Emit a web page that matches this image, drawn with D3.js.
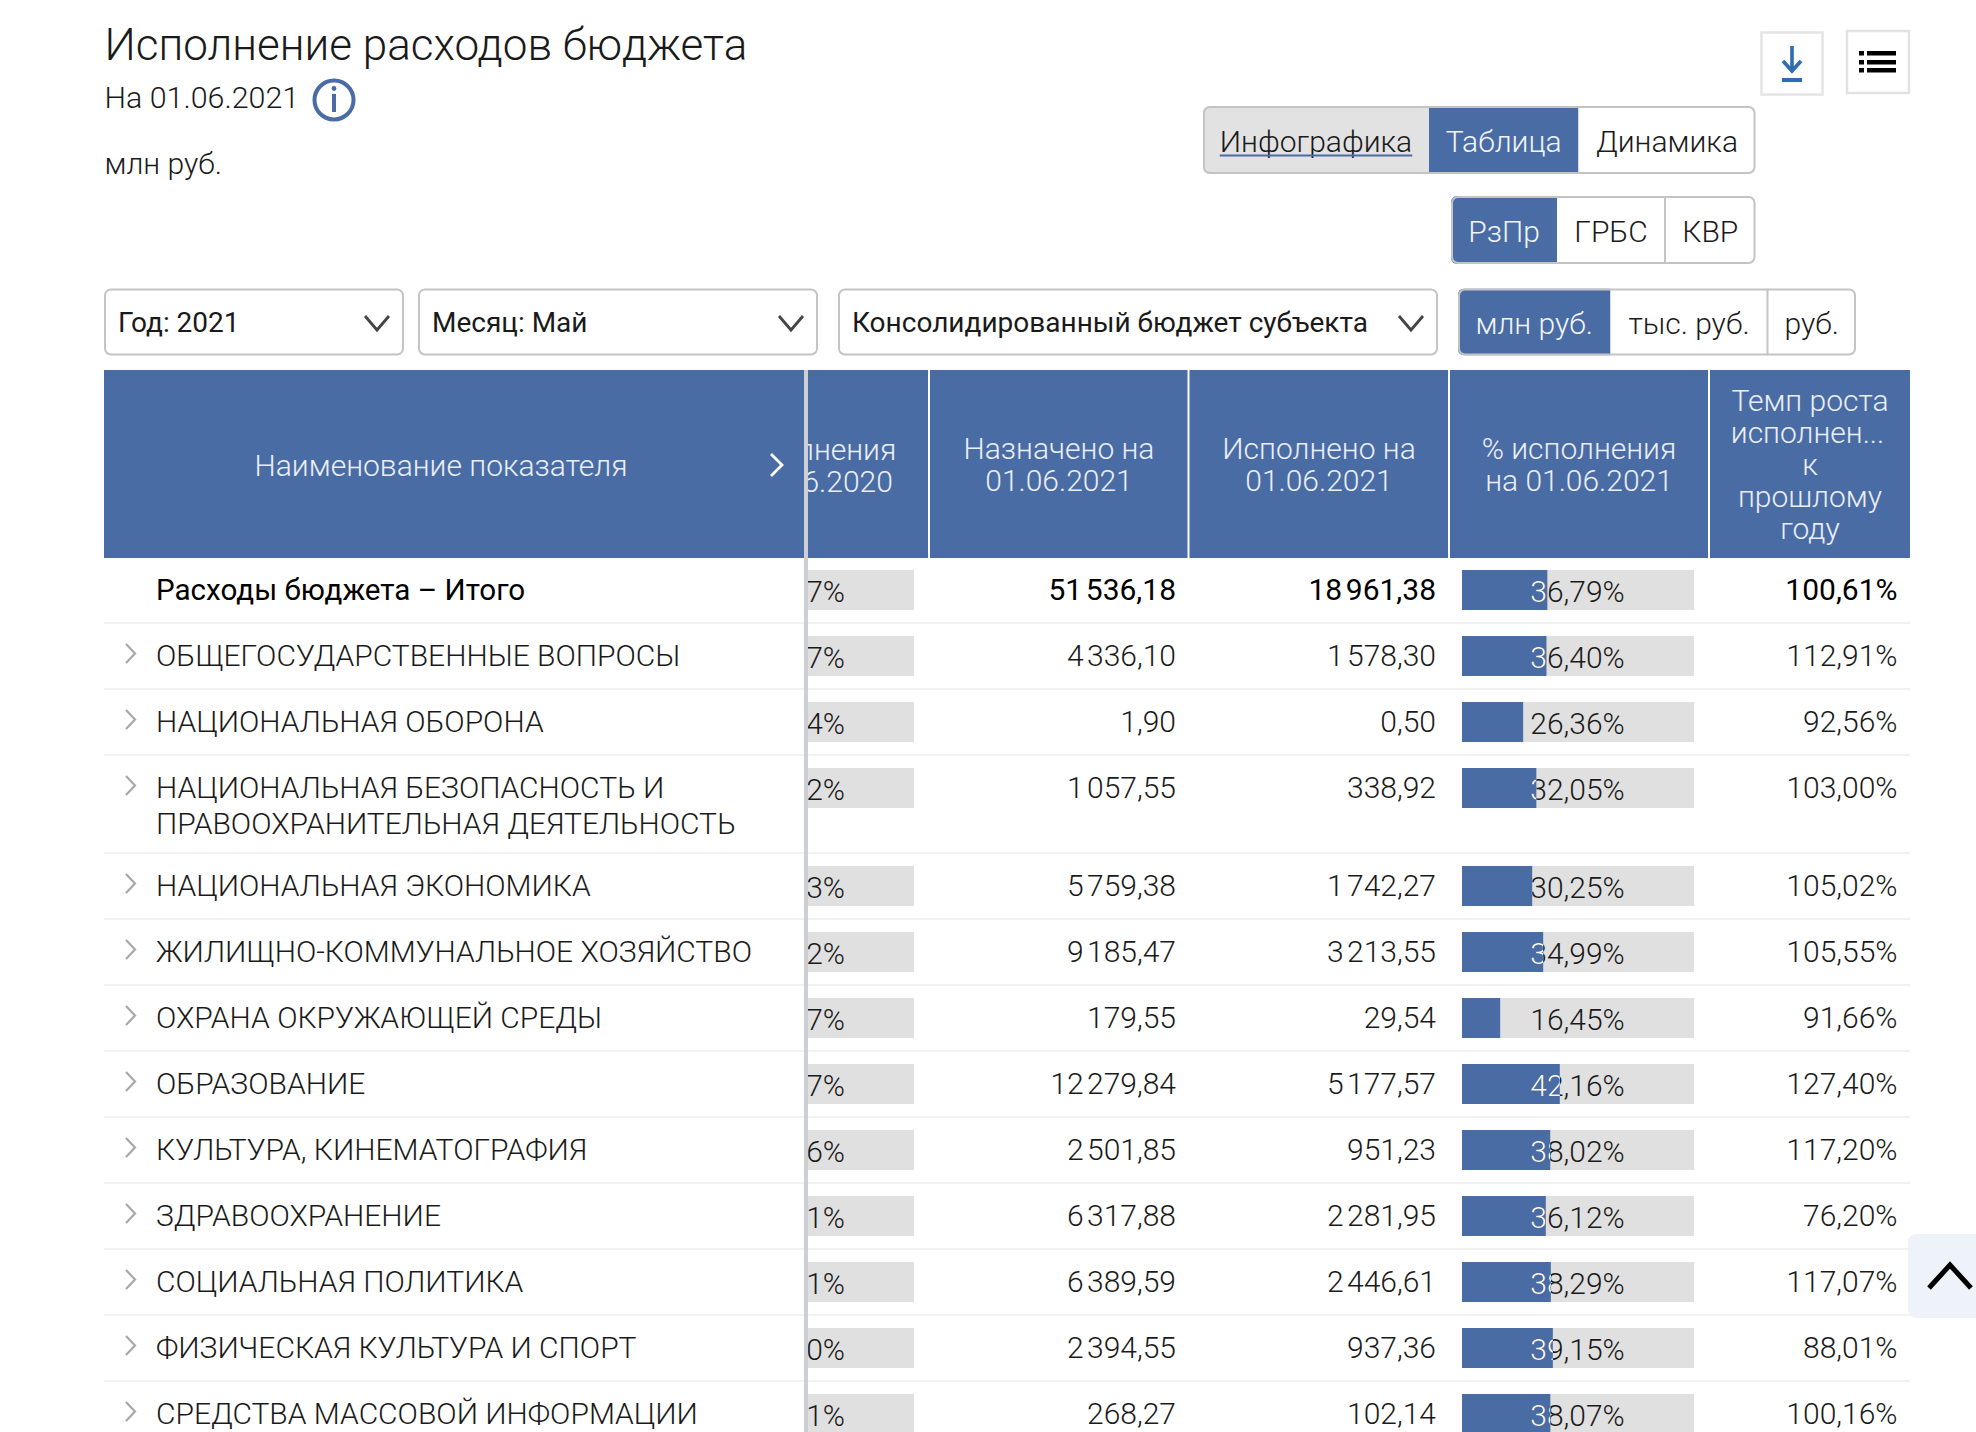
<!DOCTYPE html>
<html lang="ru"><head><meta charset="utf-8">
<script src="https://cdn.jsdelivr.net/npm/d3@7"></script>
<style>
html,body{margin:0;padding:0;background:#fff;overflow:hidden}
svg{display:block}
text{font-family:Roboto,sans-serif;font-weight:300;fill:#1a1a1a}
</style></head><body><div id="chart"></div>
<script>
const categories = ["Расходы бюджета – Итого","ОБЩЕГОСУДАРСТВЕННЫЕ ВОПРОСЫ","НАЦИОНАЛЬНАЯ ОБОРОНА",["НАЦИОНАЛЬНАЯ БЕЗОПАСНОСТЬ И","ПРАВООХРАНИТЕЛЬНАЯ ДЕЯТЕЛЬНОСТЬ"],"НАЦИОНАЛЬНАЯ ЭКОНОМИКА","ЖИЛИЩНО-КОММУНАЛЬНОЕ ХОЗЯЙСТВО","ОХРАНА ОКРУЖАЮЩЕЙ СРЕДЫ","ОБРАЗОВАНИЕ","КУЛЬТУРА, КИНЕМАТОГРАФИЯ","ЗДРАВООХРАНЕНИЕ","СОЦИАЛЬНАЯ ПОЛИТИКА","ФИЗИЧЕСКАЯ КУЛЬТУРА И СПОРТ","СРЕДСТВА МАССОВОЙ ИНФОРМАЦИИ"];
const prevPctVisible = ["7%","7%","4%","2%","3%","2%","7%","7%","6%","1%","1%","0%","1%"];
const assigned = [51536.18,4336.10,1.90,1057.55,5759.38,9185.47,179.55,12279.84,2501.85,6317.88,6389.59,2394.55,268.27];
const executed = [18961.38,1578.30,0.50,338.92,1742.27,3213.55,29.54,5177.57,951.23,2281.95,2446.61,937.36,102.14];
const execPct = [36.79,36.40,26.36,32.05,30.25,34.99,16.45,42.16,38.02,36.12,38.29,39.15,38.07];
const growth = [100.61,112.91,92.56,103.00,105.02,105.55,91.66,127.40,117.20,76.20,117.07,88.01,100.16];
const headers = [["Назначено на","01.06.2021"],["Исполнено на","01.06.2021"],["% исполнения","на 01.06.2021"],["Темп роста","исполнен...","к","прошлому","году"]];
const clippedHeader = ["% исполнения","на 01.06.2020"];
const viewTabs = ["Инфографика","Таблица","Динамика"];
const groupTabs = ["РзПр","ГРБС","КВР"];
const unitTabs = ["млн руб.","тыс. руб.","руб."];
const selects = ["Год: 2021","Месяц: Май","Консолидированный бюджет субъекта"];

const W=1976,H=1432,BLUE="#4a6ca5",TRACK="#e0e0e0",BORDER="#c4c4c4",SEP="#f1f1f1";
const svg=d3.select("#chart").append("svg").attr("width",W).attr("height",H).attr("viewBox",[0,0,W,H]);
const defs=svg.append("defs");
const fmt=v=>{const [a,b]=v.toFixed(2).split(".");return a.replace(/\B(?=(\d{3})+$)/g," ")+","+b;};
const pct=v=>v.toFixed(2).replace(".",",")+"%";
const T=(g,x,y,s,size,o={})=>g.append("text").attr("x",x).attr("y",y).attr("font-size",size).attr("text-anchor",o.a||"start").style("font-weight",o.w||300).style("fill",o.c||"#1a1a1a").text(s);
const NUM=(g,x,y,s,o)=>T(g,x,y,s,30,{a:"end",...o}).style("word-spacing","-3.8px");

// heading
T(svg,104.5,60,"Исполнение расходов бюджета",44);
T(svg,104.5,108,"На 01.06.2021",30.4);
T(svg,104.5,174,"млн руб.",30);
const info=svg.append("g").attr("transform","translate(334,100)");
info.append("circle").attr("r",19.5).attr("fill","#fff").attr("stroke",BLUE).attr("stroke-width",4);
info.append("rect").attr("x",-2).attr("y",-6).attr("width",4).attr("height",18).attr("fill",BLUE);
info.append("circle").attr("cy",-11.5).attr("r",2.4).attr("fill",BLUE);

// tool buttons
svg.append("rect").attr("x",1761.5).attr("y",32.5).attr("width",61).attr("height",62).attr("fill","#fff").attr("stroke","#e4e4e4").attr("stroke-width",2.5);
svg.append("rect").attr("x",1847).attr("y",31).attr("width",62).attr("height",62).attr("fill","#fff").attr("stroke","#e2e2e2").attr("stroke-width",2.5);
const dl=svg.append("g").attr("stroke","#2f6cb0").attr("stroke-width",3.6).attr("fill","none");
dl.append("path").attr("d","M1792 46V70M1783 61L1792 71L1801 61");
dl.append("path").attr("d","M1782 80H1802").attr("stroke-width",4);
[53,62,70].forEach(y=>{svg.append("rect").attr("x",1859).attr("y",y-2).attr("width",5).attr("height",4.5).attr("fill","#000");
 svg.append("rect").attr("x",1867).attr("y",y-2).attr("width",29).attr("height",4.5).attr("fill","#000");});

// segmented controls
function seg(x0,x1,y0,y1,splits,labels,active,size,opts={}){
  const g=svg.append("g");
  const id="seg"+x0;
  defs.append("clipPath").attr("id",id).append("rect").attr("x",x0).attr("y",y0).attr("width",x1-x0).attr("height",y1-y0).attr("rx",6);
  const xs=[x0,...splits,x1];
  const body=g.append("g").attr("clip-path",`url(#${id})`);
  labels.forEach((l,i)=>{
    const fill=i===active?BLUE:(opts.grey===i?"#e2e2e2":"#fff");
    body.append("rect").attr("x",xs[i]).attr("y",y0).attr("width",xs[i+1]-xs[i]).attr("height",y1-y0).attr("fill",fill);
    if(i>0&&i!==active&&i-1!==active) body.append("rect").attr("x",xs[i]-1).attr("y",y0).attr("width",2).attr("height",y1-y0).attr("fill",BORDER);
    const t=T(g,(xs[i]+xs[i+1])/2,(y0+y1)/2+11.5,l,size,{a:"middle",c:i===active?"#f2f5fa":"#1a1a1a"});
    if(opts.grey===i){
      const len=t.node().getComputedTextLength();
      g.append("rect").attr("x",(xs[i]+xs[i+1])/2-len/2).attr("y",(y0+y1)/2+14.5).attr("width",len).attr("height",2).attr("fill",BLUE);
    }
  });
  g.append("rect").attr("x",x0+1).attr("y",y0+1).attr("width",x1-x0-2).attr("height",y1-y0-2).attr("rx",6).attr("fill","none").attr("stroke",BORDER).attr("stroke-width",2);
}
seg(1203,1755.5,106,174,[1429,1578.5],viewTabs,1,30,{grey:0});
seg(1451,1755.5,196,264,[1557,1665],groupTabs,0,30);
seg(1458,1856,288.5,355.5,[1610.5,1767.5],unitTabs,0,30);

// dropdowns
[[104,404],[418,818],[838,1438]].forEach(([a,b],i)=>{
  svg.append("rect").attr("x",a+1).attr("y",289.5).attr("width",b-a-2).attr("height",65).attr("rx",6).attr("fill","#fff").attr("stroke",BORDER).attr("stroke-width",2);
  T(svg,a+14,332,selects[i],28,{w:400});
  svg.append("path").attr("d",`M${b-39} 316L${b-27} 330L${b-15} 316`).attr("fill","none").attr("stroke","#444").attr("stroke-width",2.8);
});

// header band
const hTop=370,hBot=558;
svg.append("rect").attr("x",104).attr("y",hTop).attr("width",1806).attr("height",hBot-hTop).attr("fill",BLUE);
[929,1188.5,1449,1709].forEach(x=>svg.append("rect").attr("x",x-1).attr("y",hTop).attr("width",2).attr("height",hBot-hTop).attr("fill","#fff"));
const hc="#eaeff7";
T(svg,441,476,"Наименование показателя",30,{a:"middle",c:hc});
svg.append("path").attr("d","M771 454L782 465L771 476").attr("fill","none").attr("stroke","#fff").attr("stroke-width",2.8);
const colCenter=[1059,1319,1579,1810];
headers.forEach((ls,i)=>{
  const lh=32, y0=464-(ls.length-1)*lh/2+10.5;
  ls.forEach((l,j)=>T(svg,colCenter[i]-(l.endsWith("...")?2.5:0),y0+j*lh,l,30,{a:"middle",c:hc}));
});

// table body geometry
const rowLines=categories.map(c=>Array.isArray(c)?2:1);
const rowH=rowLines.map(n=>n===2?98:66);
const rowTop=[0,...d3.cumsum(rowH)].map(v=>v+557);
const barX=d3.scaleLinear().domain([0,100]).range([0,232]);
const TX=1462;

// frozen-pane clipped column
defs.append("clipPath").attr("id","pane").append("rect").attr("x",808).attr("y",hTop).attr("width",1102).attr("height",H-hTop);
const pane=svg.append("g").attr("clip-path","url(#pane)");
clippedHeader.forEach((l,j)=>T(pane,799,459.5+j*32,l,30,{a:"middle",c:hc}));

categories.forEach((c,i)=>{
  const top=rowTop[i], bold=i===0, g=svg.append("g");
  const w=bold?400:300, bar=top+13, base=top+42.5, pb=top+45, nc=bold?"#000":"#1a1a1a";
  if(i<categories.length-1&&top+rowH[i]<H) g.append("rect").attr("x",104).attr("y",top+rowH[i]-1).attr("width",1806).attr("height",2).attr("fill",SEP);
  // name
  (Array.isArray(c)?c:[c]).forEach((l,j)=>T(g,156,base+j*36,l,bold?29.6:30,{w,c:nc}));
  if(!bold) g.append("path").attr("d",`M126 ${top+21}L135 ${top+30.5}L126 ${top+40}`).attr("fill","none").attr("stroke","#a8a8a8").attr("stroke-width",2.2);
  // previous-year bar, visible remainder only
  g.append("rect").attr("x",808).attr("y",bar).attr("width",106).attr("height",40).attr("fill",TRACK);
  T(g,845,pb,prevPctVisible[i],30,{a:"end"});
  // numbers
  NUM(g,1176,base,fmt(assigned[i]),{w,c:nc});
  NUM(g,1436,base,fmt(executed[i]),{w,c:nc});
  // execution bar
  g.append("rect").attr("x",TX).attr("y",bar).attr("width",barX(100)).attr("height",40).attr("fill",TRACK);
  g.append("rect").attr("x",TX).attr("y",bar).attr("width",barX(execPct[i])).attr("height",40).attr("fill",BLUE);
  T(g,TX+barX(50)-.5,pb,pct(execPct[i]),30,{a:"middle"});
  const cid="b"+i;
  defs.append("clipPath").attr("id",cid).append("rect").attr("x",TX).attr("y",bar).attr("width",barX(execPct[i])).attr("height",40);
  T(g,TX+barX(50)-.5,pb,pct(execPct[i]),30,{a:"middle",c:"#fff"}).attr("clip-path",`url(#${cid})`);
  NUM(g,1897.5,base,pct(growth[i]),{w,c:nc});
});

// frozen divider
svg.append("rect").attr("x",804).attr("y",hTop).attr("width",4).attr("height",H-hTop).attr("fill","#ccd0d4");

// back-to-top
svg.append("path").attr("d","M1976 1234H1916a8 8 0 0 0 -8 8V1310a8 8 0 0 0 8 8H1976Z").attr("fill","#eef3f9");
svg.append("path").attr("d","M1929 1288L1950 1265L1971 1288").attr("fill","none").attr("stroke","#000").attr("stroke-width",5);
</script></body></html>
